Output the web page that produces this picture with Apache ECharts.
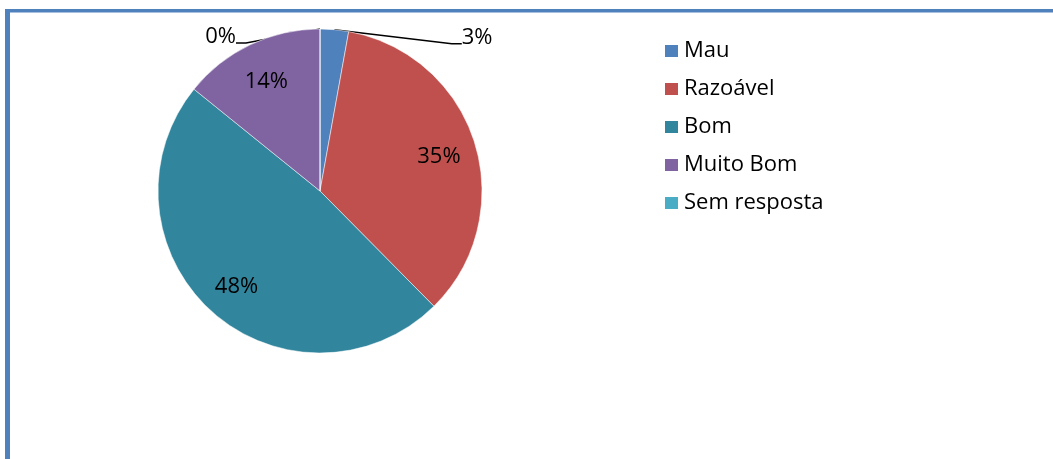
<!DOCTYPE html>
<html>
<head>
<meta charset="utf-8">
<script src="https://cdn.jsdelivr.net/npm/echarts@6/dist/echarts.min.js"></script>
<style>
  html, body { margin: 0; padding: 0; background: #fff; }
  #chart { width: 1053px; height: 459px; }
</style>
</head>
<body>
<div id="chart"></div>
<script>
const categories = ["Mau", "Razoável", "Bom", "Muito Bom", "Sem resposta"];
const counts = [4, 49, 68, 20, 0];
const colors = ["#4F81BD", "#C0504D", "#31859C", "#8064A2", "#4BACC6"];

const total = counts.reduce((a, b) => a + b, 0);
// small slices get an outside label with a leader line, the rest sit inside
const isSmall = (v) => v / total < 0.05;
const font = '"Open Sans", sans-serif';
const center = [320, 191];
const frameColor = "#4F81BD";

const chart = echarts.init(document.getElementById("chart"));
chart.setOption({
  animation: false,
  color: colors,
  textStyle: { fontFamily: font },
  graphic: [
    { type: "line", shape: { x1: 7.5, y1: 9, x2: 7.5, y2: 470 }, style: { stroke: frameColor, lineWidth: 5 } },
    { type: "line", shape: { x1: 5, y1: 10.8, x2: 1060, y2: 10.8 }, style: { stroke: frameColor, lineWidth: 3.5 } },
  ],
  legend: {
    orient: "vertical",
    left: 663,
    top: 40,
    padding: 0,
    icon: "rect",
    itemWidth: 15,
    itemHeight: 14,
    itemGap: 16,
    data: categories,
    textStyle: { fontFamily: font, fontSize: 22, lineHeight: 22, color: "#000" },
  },
  series: [
    {
      name: "main",
      type: "pie",
      center: center,
      radius: 162,
      startAngle: 90,
      percentPrecision: 0,
      avoidLabelOverlap: false,
      itemStyle: { borderColor: "#fff", borderWidth: 0.5 },
      // an empty second line drops the leader line's joint below the text middle
      label: {
        show: true, position: "outside",
        formatter: (p) => p.percent + "%\n{gap| }",
        fontSize: 22, lineHeight: 24, color: "#000",
        rich: { gap: { fontSize: 4, height: 12, lineHeight: 12 } },
      },
      labelLine: { show: true, length: 4, length2: 10, lineStyle: { color: "#000", width: 1.5 } },
      labelLayout: (p) => {
        if (!isSmall(counts[p.dataIndex])) return {};
        const r = p.labelRect;
        const right = p.align === "left";
        return {
          x: right ? r.x + 112 : r.x + r.width - 69,
          y: r.y + r.height / 2 + 18,
          align: right ? "left" : "right",
          verticalAlign: "middle",
        };
      },
      data: categories.map((name, i) => ({
        name,
        value: counts[i],
        label: { show: isSmall(counts[i]) },
        labelLine: { show: isSmall(counts[i]) },
      })),
    },
    {
      name: "labels",
      type: "pie",
      center: center,
      radius: [81, 162],
      startAngle: 90,
      percentPrecision: 0,
      silent: true,
      itemStyle: { color: "transparent", borderWidth: 0 },
      label: {
        show: true, position: "inside", formatter: "{d}%",
        fontSize: 22, color: "#000", offset: [0, 3],
      },
      labelLine: { show: false },
      data: categories.map((name, i) => ({
        name,
        value: counts[i],
        label: { show: !isSmall(counts[i]) },
      })),
    },
  ],
});
</script>
</body>
</html>
